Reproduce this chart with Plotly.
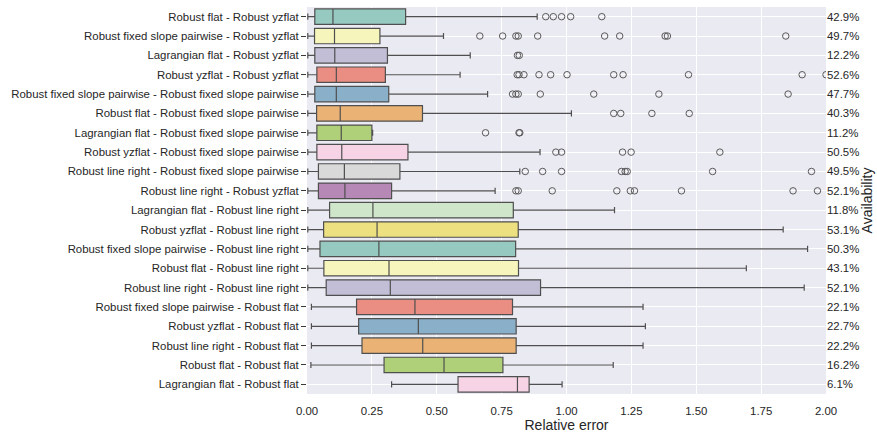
import colorsys
import plotly.graph_objects as go

categories = [
    "Robust flat - Robust yzflat",
    "Robust fixed slope pairwise - Robust yzflat",
    "Lagrangian flat - Robust yzflat",
    "Robust yzflat - Robust yzflat",
    "Robust fixed slope pairwise - Robust fixed slope pairwise",
    "Robust flat - Robust fixed slope pairwise",
    "Lagrangian flat - Robust fixed slope pairwise",
    "Robust yzflat - Robust fixed slope pairwise",
    "Robust line right - Robust fixed slope pairwise",
    "Robust line right - Robust yzflat",
    "Lagrangian flat - Robust line right",
    "Robust yzflat - Robust line right",
    "Robust fixed slope pairwise - Robust line right",
    "Robust flat - Robust line right",
    "Robust line right - Robust line right",
    "Robust fixed slope pairwise - Robust flat",
    "Robust yzflat - Robust flat",
    "Robust line right - Robust flat",
    "Robust flat - Robust flat",
    "Lagrangian flat - Robust flat",
]
availability = ["42.9%", "49.7%", "12.2%", "52.6%", "47.7%", "40.3%", "11.2%", "50.5%", "49.5%", "52.1%",
                "11.8%", "53.1%", "50.3%", "43.1%", "52.1%", "22.1%", "22.7%", "22.2%", "16.2%", "6.1%"]

lower_whisker = [0.003, 0.003, 0.003, 0.003, 0.003, 0.003, 0.003, 0.003, 0.003, 0.003,
                 0.003, 0.003, 0.003, 0.003, 0.003, 0.017, 0.017, 0.017, 0.015, 0.326]
q1 = [0.030, 0.029, 0.030, 0.038, 0.030, 0.037, 0.038, 0.038, 0.044, 0.044,
      0.087, 0.064, 0.050, 0.065, 0.074, 0.191, 0.199, 0.212, 0.297, 0.582]
median = [0.100, 0.106, 0.107, 0.113, 0.113, 0.128, 0.132, 0.134, 0.144, 0.146,
          0.254, 0.270, 0.277, 0.316, 0.321, 0.416, 0.429, 0.446, 0.528, 0.811]
q3 = [0.380, 0.281, 0.310, 0.302, 0.315, 0.445, 0.250, 0.389, 0.358, 0.326,
      0.795, 0.814, 0.804, 0.815, 0.900, 0.792, 0.806, 0.806, 0.755, 0.856]
upper_whisker = [0.887, 0.526, 0.629, 0.590, 0.696, 1.019, 0.253, 0.898, 0.820, 0.725,
                 1.185, 1.835, 1.929, 1.693, 1.916, 1.295, 1.304, 1.295, 1.180, 0.983]
outliers = [
    [0.920, 0.949, 0.981, 1.016, 1.136],
    [0.666, 0.754, 0.805, 0.814, 0.889, 1.147, 1.205, 1.380, 1.389, 1.845],
    [0.811, 0.818],
    [0.810, 0.817, 0.836, 0.894, 0.939, 1.002, 1.182, 1.218, 1.470, 1.908, 2.000],
    [0.792, 0.805, 0.814, 0.899, 1.105, 1.356, 1.854],
    [1.182, 1.209, 1.329, 1.473],
    [0.688, 0.817, 0.820],
    [0.959, 0.981, 1.216, 1.249, 1.591],
    [0.841, 0.908, 0.981, 1.212, 1.226, 1.234, 1.563, 1.944],
    [0.805, 0.814, 0.945, 1.194, 1.246, 1.262, 1.443, 1.873, 1.967],
    [], [], [], [], [], [], [], [], [], [],
]

set3 = ["#8dd3c7", "#ffffb3", "#bebada", "#fb8072", "#80b1d3", "#fdb462",
        "#b3de69", "#fccde5", "#d9d9d9", "#bc80bd", "#ccebc5", "#ffed6f"]


def desaturate(hx, prop=0.75):
    r, g, b = (int(hx[i:i + 2], 16) / 255 for i in (1, 3, 5))
    h, l, s = colorsys.rgb_to_hls(r, g, b)
    r, g, b = colorsys.hls_to_rgb(h, l, s * prop)
    return "rgb(%d,%d,%d)" % (round(r * 255), round(g * 255), round(b * 255))


edge = "#4f4f4f"
fig = go.Figure()
for i, cat in enumerate(categories):
    fig.add_trace(go.Box(
        y=[cat], q1=[q1[i]], median=[median[i]], q3=[q3[i]],
        lowerfence=[lower_whisker[i]], upperfence=[upper_whisker[i]],
        orientation="h", fillcolor=desaturate(set3[i % len(set3)]),
        line=dict(color=edge, width=1.2), width=0.8, whiskerwidth=0.4,
        boxpoints=False, showlegend=False, hoverinfo="skip",
    ))

ox, oy = [], []
for cat, vals in zip(categories, outliers):
    for v in vals:
        ox.append(v)
        oy.append(cat)
fig.add_trace(go.Scatter(
    x=ox, y=oy, mode="markers", cliponaxis=True, showlegend=False, hoverinfo="skip",
    marker=dict(symbol="circle-open", size=6.5, color="#5a5a5a", line=dict(width=1)),
))
# invisible trace to anchor the right axis
fig.add_trace(go.Scatter(x=[None], y=[None], yaxis="y2", showlegend=False))

font = dict(family="Liberation Sans, Arial, sans-serif", size=11.4, color="#262626")
fig.update_layout(
    width=877, height=434,
    margin=dict(l=307, r=51, t=7, b=40, autoexpand=False),
    paper_bgcolor="white", plot_bgcolor="#eaeaf2",
    font=font, boxmode="overlay",
    xaxis=dict(range=[0, 2], tickvals=[0, 0.25, 0.5, 0.75, 1.0, 1.25, 1.5, 1.75, 2.0],
               tickformat=".2f", showgrid=True, gridcolor="white", gridwidth=1,
               zeroline=False, showline=False, automargin=False,
               ticks="outside", ticklen=6, tickcolor="rgba(0,0,0,0)",
               title=dict(text="Relative error", standoff=4)),
    yaxis=dict(type="category", categoryorder="array", categoryarray=categories,
               range=[len(categories) - 0.5, -0.5], showgrid=True, gridcolor="white",
               gridwidth=1, zeroline=False, showline=False, automargin=False,
               ticks="outside", ticklen=5, tickcolor="#3a3a3a", tickwidth=1),
    yaxis2=dict(overlaying="y", side="right", range=[len(categories) - 0.5, -0.5],
                tickmode="array", tickvals=list(range(len(categories))), ticktext=availability,
                showgrid=False, zeroline=False, showline=False, ticks="", automargin=False,
                title=dict(text="Availability", standoff=3)),
)

fig.write_html("out.html", config={"displayModeBar": False},
               post_script="document.body.style.margin='0';")
